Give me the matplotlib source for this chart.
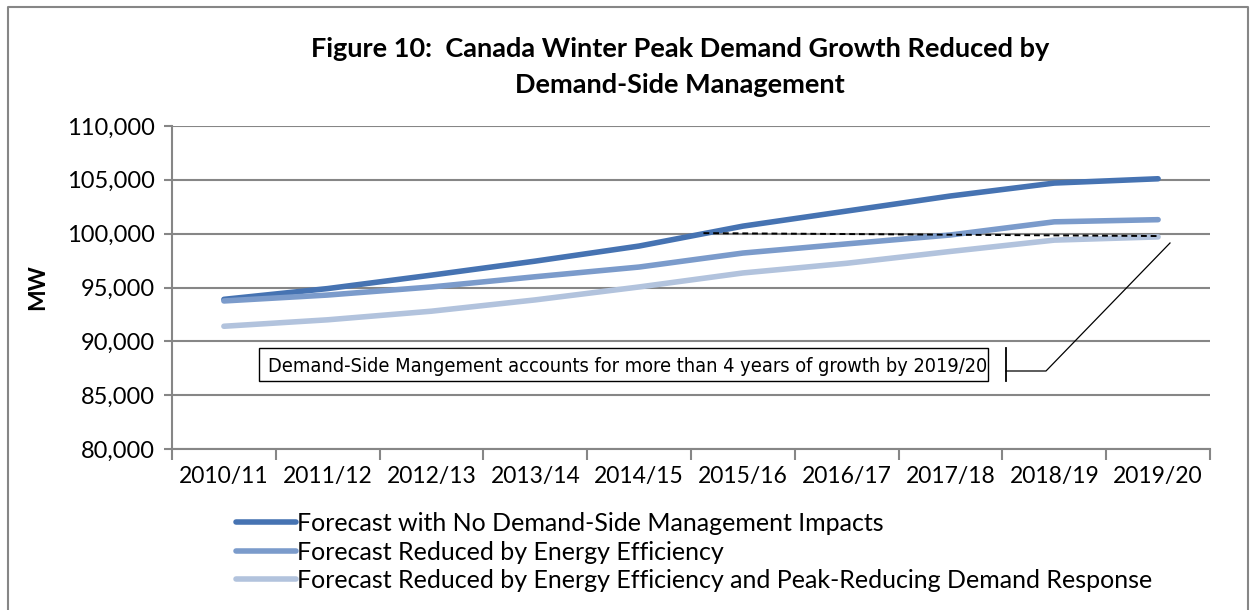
import matplotlib.pyplot as plt
from matplotlib.lines import Line2D
from matplotlib.patches import Rectangle
from matplotlib.ticker import FuncFormatter, FixedLocator

years = ["2010/11", "2011/12", "2012/13", "2013/14", "2014/15",
         "2015/16", "2016/17", "2017/18", "2018/19", "2019/20"]
no_dsm = [93900, 94900, 96150, 97450, 98850, 100700, 102100, 103500, 104700, 105100]
eff = [93750, 94300, 95050, 96000, 96900, 98200, 99050, 99880, 101100, 101300]
eff_dr = [91400, 92000, 92800, 93850, 95050, 96350, 97250, 98350, 99400, 99700]
labels = ["Forecast with No Demand-Side Management Impacts",
          "Forecast Reduced by Energy Efficiency",
          "Forecast Reduced by Energy Efficiency and Peak-Reducing Demand Response"]
colors = ["#4673B2", "#7B9BCB", "#B2C3DD"]

# dashed reference: where the no-DSM line reaches 100,000 over to the 2019/20 end
ref_x = [4.62, 9]
ref_y = [100050, 99780]

plt.rcParams['font.family'] = ['Lato', 'DejaVu Sans']

fig = plt.figure(figsize=(12.55, 6.1), dpi=100)
ax = fig.add_axes([172/1255, 1 - 449/610, (1210-172)/1255, (449-126)/610])

x = list(range(len(years)))
for ys, c, lab in zip([no_dsm, eff, eff_dr], colors, labels):
    ax.plot(x, ys, color=c, lw=4, solid_capstyle='round', label=lab, zorder=3)
ax.plot(ref_x, ref_y, color='black', lw=1.4, ls=(0, (3, 2)), zorder=4)

ax.set_xlim(-0.5, 9.5)
ax.set_ylim(80000, 110000)
ax.set_yticks(range(80000, 110001, 5000))
ax.yaxis.set_major_formatter(FuncFormatter(lambda v, p: f"{int(v):,}"))
ax.set_xticks(x)
ax.set_xticklabels(years)
ax.xaxis.set_minor_locator(FixedLocator([i - 0.5 for i in range(len(years) + 1)]))
ax.tick_params(axis='x', which='major', length=0, pad=12, labelsize=16.5)
ax.tick_params(axis='x', which='minor', length=8, color='#868686', width=1.5)
ax.tick_params(axis='y', length=6, color='#868686', width=1.5, labelsize=17, pad=6)
ax.grid(axis='y', color='#868686', lw=1.5)
ax.set_axisbelow(True)
for s in ['top', 'right']:
    ax.spines[s].set_visible(False)
for s in ['left', 'bottom']:
    ax.spines[s].set_color('#868686')
    ax.spines[s].set_linewidth(1.5)
ax.set_ylabel("MW", fontsize=16.5, fontweight='bold', labelpad=14)

fig.text(680/1255, 1 - 49/610, "Figure 10:  Canada Winter Peak Demand Growth Reduced by",
         ha='center', va='center', fontsize=19.5, fontweight='bold')
fig.text(680/1255, 1 - 85/610, "Demand-Side Management",
         ha='center', va='center', fontsize=19.5, fontweight='bold')

# annotation box
fig.text(628/1255, 1 - 366/610,
         "Demand-Side Mangement accounts for more than 4 years of growth by 2019/20",
         ha='center', va='center', fontsize=14.3, fontstretch='condensed',
         family=['DejaVu Sans'])
fig.add_artist(Rectangle((259/1255, 1 - 381/610), (988-259)/1255, 33/610,
                         transform=fig.transFigure, fill=False, ec='black', lw=1))
fig.add_artist(Line2D([1006/1255, 1006/1255], [1 - 348/610, 1 - 381/610],
                      transform=fig.transFigure, color='black', lw=1.3))
fig.add_artist(Line2D([1006/1255, 1046/1255, 1170/1255],
                      [1 - 371/610, 1 - 371/610, 1 - 243/610],
                      transform=fig.transFigure, color='black', lw=0.9))

# outer chart border
fig.add_artist(Line2D([8/1255, 8/1255, 1248/1255, 1248/1255], [0, 1 - 7/610, 1 - 7/610, 0],
                      transform=fig.transFigure, color='#868686', lw=1.5))

fig.legend(loc='upper left', bbox_to_anchor=(236/1255, 1 - 512/610), frameon=False,
           handlelength=2.4, handletextpad=0.05, labelspacing=0.22, fontsize=18,
           borderpad=0, borderaxespad=0)

fig.savefig("out.png", dpi=100)
